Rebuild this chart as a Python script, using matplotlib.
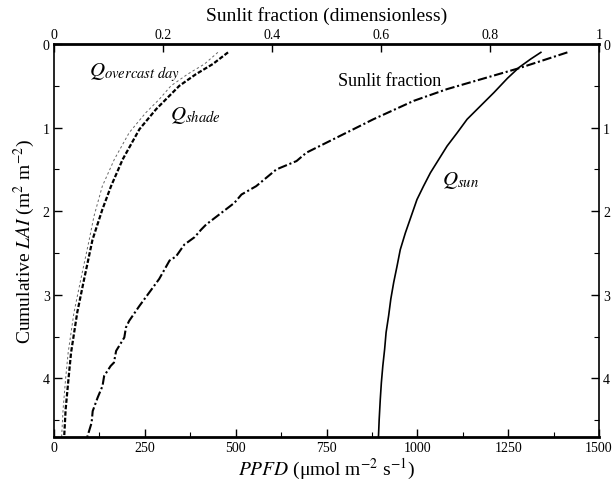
import matplotlib
matplotlib.use("Agg")
import matplotlib.pyplot as plt
from matplotlib.ticker import MultipleLocator

plt.rcParams['font.family'] = ['Liberation Serif', 'DejaVu Serif']
plt.rcParams['mathtext.fontset'] = 'stix'

# cumulative LAI (m2 m-2) and PPFD (umol m-2 s-1) for each profile
lai_sun = [0.10, 0.18, 0.28, 0.41, 0.58, 0.74, 0.90, 1.06, 1.22, 1.38, 1.54, 1.70, 1.86,
           2.06, 2.26, 2.46, 2.66, 2.85, 3.05, 3.25, 3.45, 3.65, 3.85, 4.05, 4.25, 4.49, 4.70]
q_sun = [1340, 1312, 1280, 1248, 1211, 1174, 1137, 1110, 1082, 1059, 1036, 1017, 999,
         983, 967, 953, 944, 935, 927, 921, 914, 910, 905, 901, 898, 895, 893]

lai_shade = [0.10, 0.24, 0.36, 0.50, 0.64, 0.78, 1.02, 1.38, 1.70, 1.98, 2.34, 2.81,
             3.21, 3.69, 4.00, 4.37, 4.70]
q_shade = [479, 437, 391, 345, 313, 281, 235, 189, 157, 133, 106, 83, 64, 47, 40, 32, 28]

lai_overcast = [0.10, 0.24, 0.36, 0.50, 0.66, 0.82, 1.06, 1.38, 1.70, 2.06, 2.34, 2.81,
                3.21, 3.69, 4.00, 4.37, 4.70]
q_overcast = [451, 414, 368, 322, 290, 253, 207, 166, 133, 110, 97, 74, 55, 39, 32, 25, 21]

# sunlit leaf fraction against the top axis
lai_frac = [0.10, 0.29, 0.54, 0.68, 0.90, 1.04, 1.30, 1.40, 1.50, 1.70, 1.80, 1.90,
            2.16, 2.22, 2.31, 2.40, 2.54, 2.59, 2.81, 2.97, 3.13, 3.31, 3.39, 3.51,
            3.67, 3.81, 3.85, 3.97, 4.09, 4.23, 4.39, 4.53, 4.70]
sunlit_frac = [0.942, 0.853, 0.721, 0.660, 0.586, 0.543, 0.463, 0.445, 0.408, 0.371,
               0.344, 0.331, 0.279, 0.270, 0.258, 0.239, 0.224, 0.212, 0.193, 0.175,
               0.157, 0.138, 0.132, 0.129, 0.114, 0.110, 0.104, 0.092, 0.089, 0.080,
               0.071, 0.069, 0.061]

fig = plt.figure(figsize=(6.14, 4.85), dpi=100)
ax = fig.add_axes([54/614, 1 - 438/485, 545/614, 393/485])

ax.plot(q_sun, lai_sun, color='black', lw=1.2)
ax.plot(q_shade, lai_shade, color='black', lw=1.6, dashes=(2.0, 0.9))
ax.plot(q_overcast, lai_overcast, color='0.4', lw=0.7, dashes=(2.5, 2.5))

ax.set_xlim(0, 1500)
ax.set_ylim(4.7, 0)
ax.xaxis.set_major_locator(MultipleLocator(250))
ax.xaxis.set_minor_locator(MultipleLocator(125))
ax.yaxis.set_major_locator(MultipleLocator(1))
ax.yaxis.set_minor_locator(MultipleLocator(0.5))
ax.tick_params(which='both', direction='in', labelsize=10, right=True, labelright=True,
               top=False, pad=3)
ax.tick_params(which='major', length=6, width=1.0)
ax.tick_params(which='minor', length=3.5, width=0.8)

ax.set_xlabel(r'$\mathit{PPFD}$ (μmol m$^{-2}$ s$^{-1}$)', fontsize=14, labelpad=1)
ax.set_ylabel(r'Cumulative $\mathit{LAI}$ (m$^{2}$ m$^{-2}$)', fontsize=14, labelpad=4)

for side in ['top', 'bottom']:
    ax.spines[side].set_linewidth(2.0)
for side in ['left', 'right']:
    ax.spines[side].set_linewidth(1.2)

top = ax.twiny()
top.plot(sunlit_frac, lai_frac, color='black', lw=1.5, dashes=(4.5, 1.3, 1.0, 1.3))
top.set_xlim(0, 1)
top.set_xticks([0, 0.2, 0.4, 0.6, 0.8, 1.0])
top.set_xticklabels(['0', '0.2', '0.4', '0.6', '0.8', '1'])
top.tick_params(direction='in', length=6, width=1.0, labelsize=10, pad=2)
top.set_xlabel('Sunlit fraction (dimensionless)', fontsize=14, labelpad=6)
for s in top.spines.values():
    s.set_visible(False)

ax.text(97, 0.38, r'$Q_{\mathit{overcast\ day}}$', fontsize=15, va='baseline')
ax.text(318, 0.90, r'$Q_{\mathit{shade}}$', fontsize=15, va='baseline')
ax.text(1069, 1.68, r'$Q_{\mathit{sun}}$', fontsize=15, va='baseline')
ax.text(925, 0.49, 'Sunlit fraction', fontsize=13, ha='center', va='baseline')

fig.savefig('out.png', dpi=100)
